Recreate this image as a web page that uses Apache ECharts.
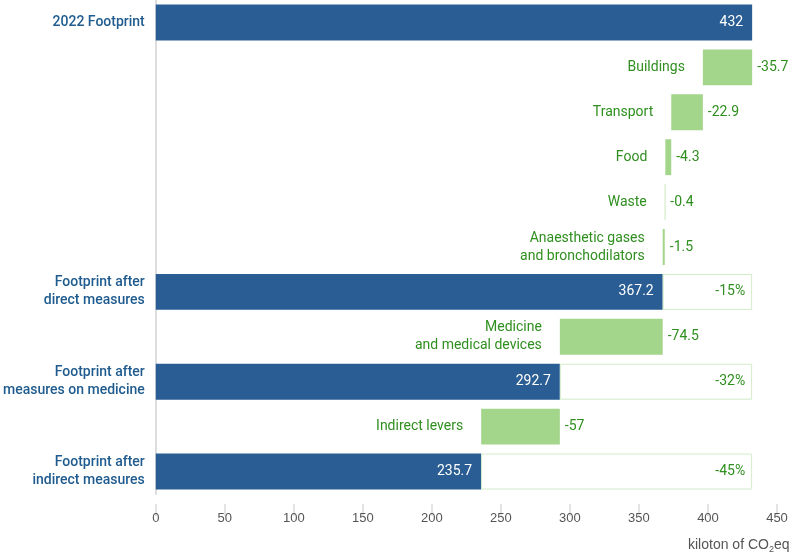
<!DOCTYPE html>
<html lang="en">
<head>
  <meta charset="UTF-8">
  <title>Footprint waterfall</title>
  <style>
    html, body { margin: 0; padding: 0; background: #fff; }
    #chart { width: 800px; height: 557px; }
  </style>
</head>
<body>
  <div id="chart"></div>
  <script src="https://cdn.jsdelivr.net/npm/echarts@6/dist/echarts.min.js"></script>
  <script>
    // categories from top to bottom
    var categories = [
      '2022 Footprint',
      'Buildings',
      'Transport',
      'Food',
      'Waste',
      'Anaesthetic gases\nand bronchodilators',
      'Footprint after\ndirect measures',
      'Medicine\nand medical devices',
      'Footprint after\nmeasures on medicine',
      'Indirect levers',
      'Footprint after\nindirect measures'
    ];
    // totals (blue bars), '-' where the row is a reduction
    var totals = [432, '-', '-', '-', '-', '-', 367.2, '-', 292.7, '-', 235.7];
    // reductions (green bars)
    var reductions = ['-', 35.7, 22.9, 4.3, 0.4, 1.5, '-', 74.5, '-', 57, '-'];
    var xTicks = [0, 50, 100, 150, 200, 250, 300, 350, 400, 450];

    var blue = '#2a5d93';
    var green = '#a3d68b';
    var greenText = '#2f8f1f';
    var blueText = '#1f5b8e';
    var axisFont = '"Liberation Sans", Arial, sans-serif';

    // invisible base under every reduction, and the gap box after each total
    var start = totals[0];
    var base = [];
    var gap = [];
    var level = start;
    for (var i = 0; i < categories.length; i++) {
      if (reductions[i] !== '-') {
        level = level - reductions[i];
        base.push(+level.toFixed(1));
        gap.push('-');
      } else {
        base.push('-');
        gap.push(i === 0 ? '-' : +(start - totals[i]).toFixed(1));
      }
    }

    var myChart = echarts.init(document.getElementById('chart'));
    myChart.setOption({
      animation: false,
      textStyle: { fontFamily: 'Roboto' },
      grid: { left: 154, right: 23, top: 0, bottom: 63 },
      xAxis: {
        type: 'value',
        min: xTicks[0],
        max: xTicks[xTicks.length - 1],
        interval: 50,
        offset: 10,
        axisLine: { show: false },
        axisTick: { show: true, length: 12, lineStyle: { color: '#dcdcdc', width: 1.5 } },
        splitLine: { show: false },
        axisLabel: { color: '#555', fontSize: 13, fontFamily: axisFont, margin: 8 },
        name: '{a|kiloton of CO}{s|2}{a|eq}',
        nameLocation: 'end',
        nameGap: -89,
        nameMoveOverlap: false,
        nameTextStyle: {
          align: 'left',
          verticalAlign: 'top',
          padding: [33, 0, 0, 0],
          rich: {
            a: { color: '#555', fontSize: 14, lineHeight: 17, fontFamily: axisFont },
            s: { color: '#555', fontSize: 9, lineHeight: 17, verticalAlign: 'bottom', padding: [7, 0, 0, 0], fontFamily: axisFont }
          }
        }
      },
      yAxis: {
        type: 'category',
        inverse: true,
        data: categories,
        axisLine: { show: true, lineStyle: { color: '#dddddd', width: 2 } },
        axisTick: { show: false },
        axisLabel: {
          margin: 11,
          color: blueText,
          fontSize: 14,
          fontWeight: 500,
          lineHeight: 18,
          formatter: function (v, idx) {
            return totals[idx] === '-' ? '' : v;
          }
        }
      },
      series: [
        {
          name: 'base',
          type: 'bar',
          stack: 'w',
          barWidth: '80%',
          data: base,
          itemStyle: { color: 'transparent' },
          label: {
            show: true,
            position: 'insideRight',
            distance: 18,
            color: greenText,
            fontSize: 14,
            lineHeight: 18,
            align: 'right',
            formatter: function (p) { return categories[p.dataIndex]; }
          },
          emphasis: { disabled: true }
        },
        {
          name: 'total',
          type: 'bar',
          stack: 'w',
          data: totals,
          itemStyle: { color: blue },
          label: {
            show: true,
            position: 'insideRight',
            distance: 9,
            color: '#fff',
            fontSize: 14,
            formatter: function (p) { return p.value; }
          }
        },
        {
          name: 'reduction',
          type: 'bar',
          stack: 'w',
          data: reductions,
          itemStyle: { color: green },
          label: {
            show: true,
            position: 'right',
            distance: 5,
            color: greenText,
            fontSize: 14,
            formatter: function (p) { return '-' + p.value; }
          }
        },
        {
          name: 'gap',
          type: 'bar',
          stack: 'w',
          data: gap,
          itemStyle: { color: '#fff', borderColor: '#d3ebc8', borderWidth: 1 },
          label: {
            show: true,
            position: 'insideRight',
            distance: 7,
            color: greenText,
            fontSize: 14,
            formatter: function (p) {
              return '-' + Math.round(p.value / start * 100) + '%';
            }
          }
        }
      ]
    });
  </script>
</body>
</html>
